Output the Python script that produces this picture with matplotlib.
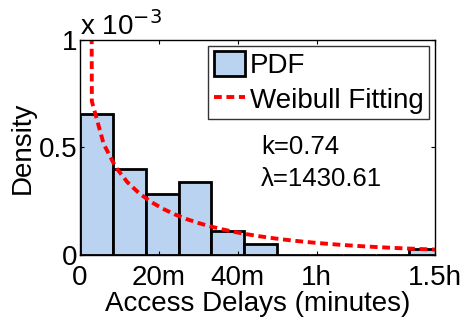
import numpy as np
import matplotlib.pyplot as plt

plt.rcParams['font.family'] = ['Liberation Sans', 'DejaVu Sans']

# histogram of access delays (seconds), density values in units of 1e-3
bin_edges = [0, 500, 1000, 1500, 2000, 2500, 3000, 3500, 4000, 4500, 5000, 5500]
density = [0.657, 0.398, 0.285, 0.341, 0.113, 0.053, 0, 0, 0, 0, 0.026]

# fitted Weibull parameters
k = 0.74
lam = 1430.61

xticks = [0, 1200, 2400, 3600, 5400]
xticklabels = ['0', '20m', '40m', '1h', '1.5h']
yticks = [0, 0.5e-3, 1e-3]
yticklabels = ['0', '0.5', '1']

fig = plt.figure(figsize=(4.66, 3.27), dpi=100)
ax = fig.add_axes([0.1717, 0.2202, 0.7618, 0.6575])

edges = np.array(bin_edges, dtype=float)
heights = np.array(density) * 1e-3
bars = ax.bar(edges[:-1], heights, width=np.diff(edges), align='edge',
              color='#b9d3f0', edgecolor='black', linewidth=2.0)

# fitted curve evaluated every 3 minutes
x = np.arange(0, 5401, 180, dtype=float)
x[0] = 1e-3
pdf = (k / lam) * (x / lam) ** (k - 1) * np.exp(-(x / lam) ** k)
fit, = ax.plot(x, pdf, color='red', linestyle=(0, (2, 1.2)), linewidth=2.8)

ax.set_xlim(0, 5400)
ax.set_ylim(0, 1e-3)
ax.set_xticks(xticks)
ax.set_xticklabels(xticklabels)
ax.set_yticks(yticks)
ax.set_yticklabels(yticklabels)
ax.tick_params(direction='in', top=True, right=True, labelsize=20, length=3,
               pad=2)
ax.tick_params(axis='x', pad=7.5)
for s in ax.spines.values():
    s.set_linewidth(1.0)

ax.set_xlabel('Access Delays (minutes)', fontsize=20, labelpad=0)
ax.set_ylabel('Density', fontsize=20, labelpad=2)

ax.text(0.0, 0.995, r'x 10$^{-3}$', transform=ax.transAxes, fontsize=20,
        ha='left', va='bottom')

ax.text(0.51, 0.47, 'k=0.74', transform=ax.transAxes, fontsize=18.5)
ax.text(0.51, 0.32, 'λ=1430.61', transform=ax.transAxes, fontsize=18.5)

leg = ax.legend([bars, fit], ['PDF', 'Weibull Fitting'], loc='upper right',
                fontsize=20, frameon=True, fancybox=False,
                edgecolor='black', borderpad=0.2, handlelength=1.1,
                handleheight=1.0, handletextpad=0.2, labelspacing=0.25,
                borderaxespad=0.2)
leg.get_frame().set_linewidth(1.0)

fig.savefig('out.png', dpi=100)
